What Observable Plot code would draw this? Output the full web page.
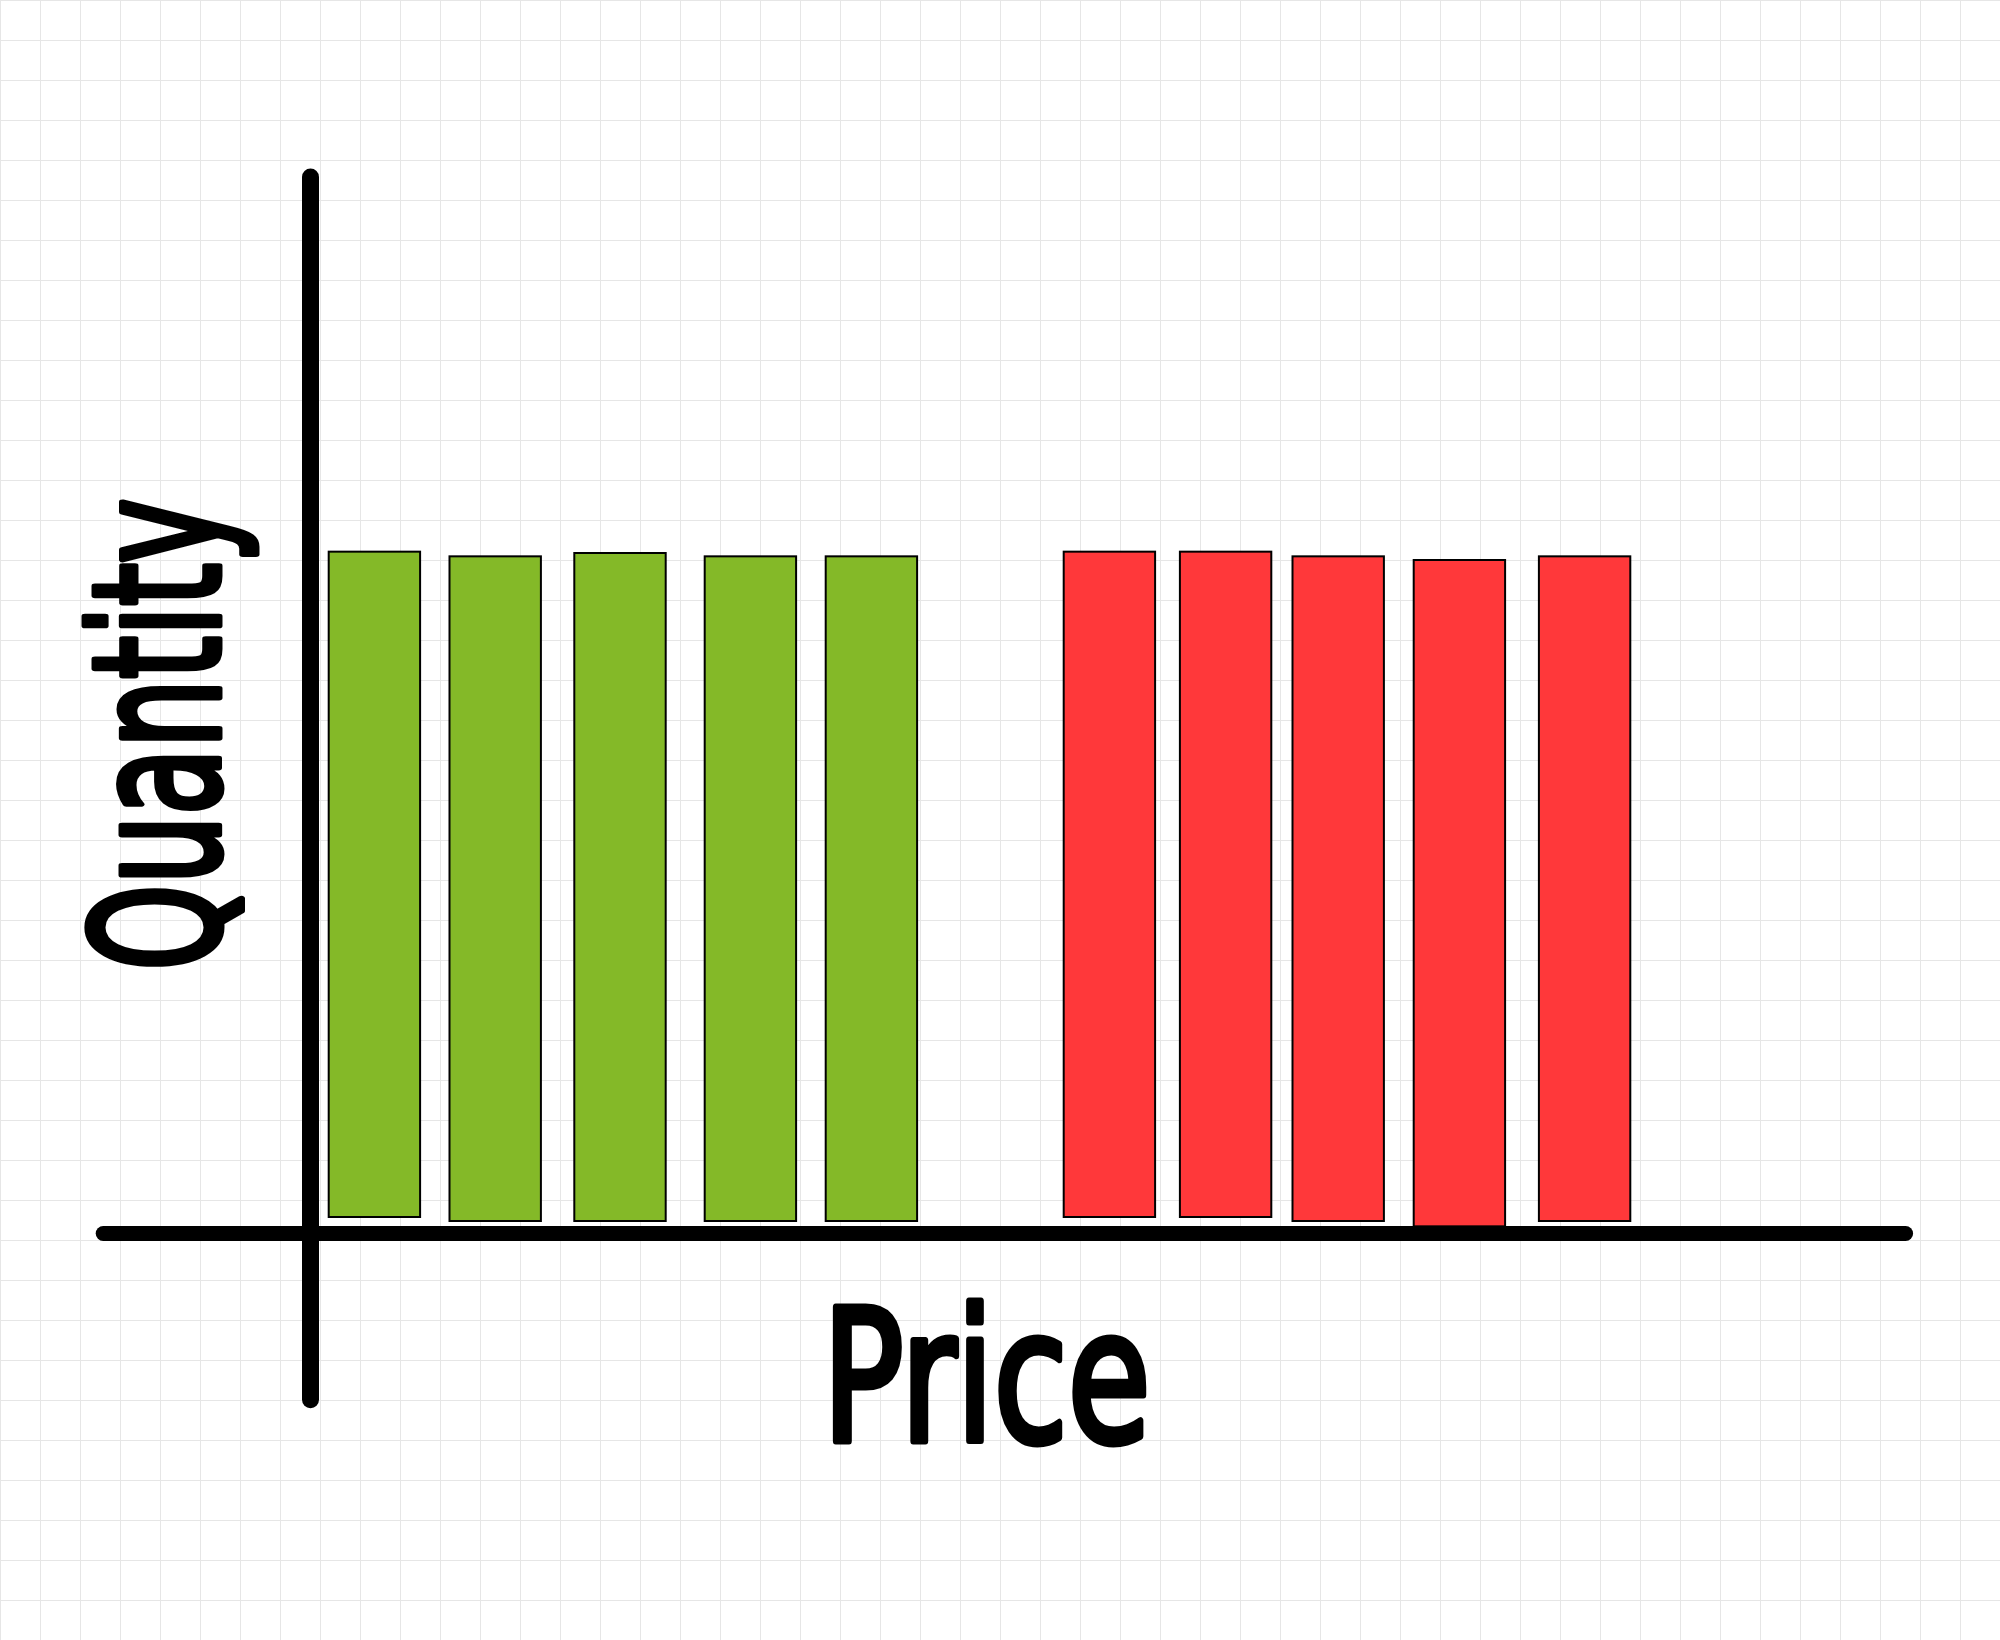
<!DOCTYPE html>
<html>
<head>
<meta charset="utf-8">
<script src="https://cdn.jsdelivr.net/npm/d3@7"></script>
<script src="https://cdn.jsdelivr.net/npm/@observablehq/plot@0.6"></script>
<style>
  html, body { margin: 0; padding: 0; }
  body {
    width: 2000px; height: 1640px; overflow: hidden;
    background-color: #ffffff;
    background-image:
      linear-gradient(to right, #e6e6e6 1px, transparent 1px),
      linear-gradient(to bottom, #e6e6e6 1px, transparent 1px);
    background-size: 40px 40px;
  }
  #chart svg { background: transparent !important; display: block; }
</style>
</head>
<body>
<div id="chart"></div>
<script>
// ---- data ----
const priceCenters   = [3.22, 9.26, 15.5, 22.02, 28.07, 39.97, 45.78, 51.41, 57.47, 63.73];
const quantityTops   = [102.2, 101.5, 102.0, 101.5, 101.5, 102.2, 102.2, 101.5, 100.95, 101.5];
const quantityBases  = [2.4, 1.8, 1.8, 1.8, 1.8, 2.4, 2.4, 1.8, 1.0, 1.8];
const sides          = ["buy", "buy", "buy", "buy", "buy", "sell", "sell", "sell", "sell", "sell"];
const sideDomain     = ["buy", "sell"];
const sideColors     = ["#84b928", "#ff383a"];
const xLabel = "Price";
const yLabel = "Quantity";

// axis extents (data units)
const priceAxisExtent    = [-10.34, 79.78];
const quantityAxisExtent = [-25, 158.4];
const barWidth = 4.57;

const bars = priceCenters.map((p, i) => ({
  price: p, top: quantityTops[i], base: quantityBases[i], side: sides[i]
}));

const labelFont = "'Liberation Sans Narrow', 'DejaVu Sans Condensed', 'Noto Sans', sans-serif";

const chart = Plot.plot({
  width: 2000,
  height: 1640,
  marginLeft: 310,
  marginRight: 90,
  marginTop: 233,
  marginBottom: 407,
  style: { background: "transparent", overflow: "visible" },
  x: { domain: [0, 80], axis: null },
  y: { domain: [0, 150], axis: null },
  color: { domain: sideDomain, range: sideColors },
  marks: [
    Plot.rect(bars, {
      x1: d => d.price - barWidth / 2,
      x2: d => d.price + barWidth / 2,
      y1: "base",
      y2: "top",
      fill: "side",
      stroke: "#000",
      strokeWidth: 2
    }),
    Plot.ruleY([0], { x1: priceAxisExtent[0], x2: priceAxisExtent[1], stroke: "#000", strokeWidth: 15, strokeLinecap: "round" }),
    Plot.ruleX([0], { y1: quantityAxisExtent[0], y2: quantityAxisExtent[1], stroke: "#000", strokeWidth: 17, strokeLinecap: "round" }),
    Plot.text([xLabel], {
      frameAnchor: "bottom", lineAnchor: "bottom", textAnchor: "middle", dx: -124, dy: 207,
      fontSize: 184, fontWeight: "normal", fontFamily: labelFont, fill: "#000",
      stroke: "#000", strokeWidth: 7, strokeLinejoin: "round"
    }),
    Plot.text([yLabel], {
      frameAnchor: "left", lineAnchor: "bottom", textAnchor: "middle", rotate: -90, dx: -92, dy: 1,
      fontSize: 176, fontWeight: "normal", fontFamily: labelFont, fill: "#000",
      stroke: "#000", strokeWidth: 7, strokeLinejoin: "round"
    })
  ]
});

document.getElementById("chart").appendChild(chart);

// squeeze the labels to the hand-lettered widths of the reference
d3.select(chart).selectAll("text").each(function () {
  const t = this.textContent;
  if (t === xLabel) { this.setAttribute("textLength", 328); this.setAttribute("lengthAdjust", "spacingAndGlyphs"); }
  if (t === yLabel) { this.setAttribute("textLength", 472); this.setAttribute("lengthAdjust", "spacingAndGlyphs"); }
});
</script>
</body>
</html>
